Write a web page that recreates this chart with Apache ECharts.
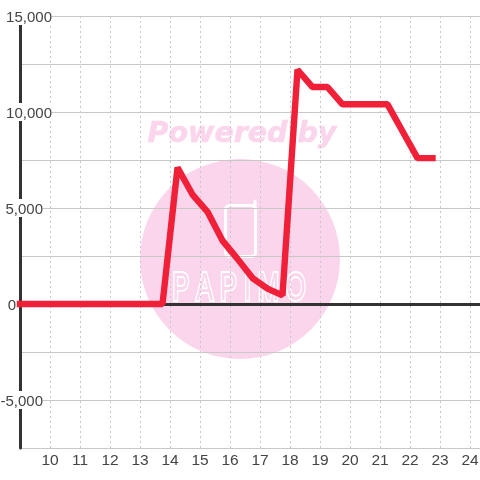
<!DOCTYPE html>
<html>
<head>
<meta charset="utf-8">
<style>
    html, body { margin: 0; padding: 0; background: #fff; }
    #chart { width: 480px; height: 480px; }
</style>
<script src="https://cdn.jsdelivr.net/npm/echarts@6/dist/echarts.min.js"></script>
</head>
<body>
<div id="chart"></div>
<script>
    var hours = [9, 9.25, 9.75, 10.25, 10.75, 11.25, 11.75, 12.25, 12.75, 13.25, 13.75,
        14.25, 14.75, 15.25, 15.75, 16.25, 16.75, 17.25, 17.75,
        18.25, 18.75, 19.25, 19.75, 20.25, 20.75, 21.25, 21.75, 22.25, 22.75];
    var values = [0, 0, 0, 0, 0, 0, 0, 0, 0, 0, 0,
        7100, 5700, 4800, 3300, 2350, 1350, 800, 450,
        12200, 11300, 11300, 10400, 10400, 10400, 10400, 9000, 7600, 7600];
    var yLabelValues = [15000, 10000, 5000, 0, -5000];
    var yLabelTexts = ['15,000', '10,000', '5,000', '0', '-5,000'];

    var points = [];
    for (var i = 0; i < hours.length; i++) {
        points.push([hours[i], values[i]]);
    }

    // 标签右侧留白不同,用空token顶开
    var labelGap = {'15,000': 'a', '10,000': 'a', '5,000': 'b', '0': 'c', '-5,000': 'b'};

    var myChart = echarts.init(document.getElementById('chart'), null, {renderer: 'canvas'});

    var option = {
        animation: false,
        backgroundColor: '#fff',
        grid: {left: 20, right: 0, top: 16, bottom: 32, outerBoundsMode: 'none'},
        xAxis: [
            {
                type: 'value',
                min: 9,
                max: 9 + 460 / 30,
                interval: 1,
                axisLine: {onZero: false, show: false},
                axisTick: {show: false},
                axisLabel: {
                    showMinLabel: false,
                    showMaxLabel: false,
                    margin: 5,
                    color: '#444',
                    fontSize: 15.5,
                    fontFamily: 'Liberation Sans'
                },
                splitLine: {lineStyle: {color: '#c8c8c8', width: 1, type: [2, 3]}}
            },
            {
                // 零线
                type: 'value',
                min: 9,
                max: 9 + 460 / 30,
                axisLine: {onZero: true, show: true, lineStyle: {color: '#333', width: 3}},
                axisTick: {show: false},
                axisLabel: {show: false},
                splitLine: {show: false}
            }
        ],
        yAxis: {
            type: 'value',
            min: -7500,
            max: 15000,
            interval: 2500,
            axisLine: {show: true, onZero: false, lineStyle: {color: '#333', width: 3}},
            axisTick: {show: false},
            axisLabel: {
                align: 'right',
                margin: -32,
                formatter: function (val) {
                    var idx = yLabelValues.indexOf(val);
                    if (idx < 0) {
                        return '';
                    }
                    var txt = yLabelTexts[idx];
                    return '{t|' + txt + '}{' + labelGap[txt] + '|}';
                },
                rich: {
                    t: {
                        color: '#444',
                        fontSize: 15,
                        fontFamily: 'Liberation Sans',
                        backgroundColor: '#fff',
                        lineHeight: 16,
                        padding: [3, 0, 0, 0]
                    },
                    a: {width: 0},
                    b: {width: 9},
                    c: {width: 36}
                }
            },
            splitLine: {lineStyle: {color: '#c8c8c8', width: 1}}
        },
        graphic: [
            {
                type: 'circle',
                z: -1,
                shape: {cx: 240, cy: 259, r: 100},
                style: {fill: '#fbd5ec'}
            },
            {
                type: 'text',
                z: -1,
                x: 242,
                y: 135,
                style: {
                    text: 'Powered by',
                    fill: '#fbd5ec',
                    stroke: '#fbd5ec',
                    lineWidth: 0.6,
                    font: 'italic bold 28.5px "DejaVu Sans"',
                    align: 'center',
                    verticalAlign: 'middle'
                }
            },
            {
                type: 'rect',
                z: -1,
                shape: {x: 225.5, y: 205.5, width: 30, height: 51, r: 4},
                style: {fill: 'none', stroke: '#fff', lineWidth: 3}
            },
            {
                type: 'line',
                z: -1,
                shape: {x1: 255, y1: 201, x2: 255, y2: 208},
                style: {stroke: '#fff', lineWidth: 3, lineCap: 'round'}
            },
            {
                type: 'text',
                z: -1,
                x: 239,
                y: 289,
                scaleX: 0.84,
                scaleY: 1.3,
                style: {
                    text: 'P A P I M O',
                    fill: '#fbd5ec',
                    stroke: '#fff',
                    lineWidth: 3,
                    font: '30px "Liberation Sans"',
                    align: 'center',
                    verticalAlign: 'middle'
                }
            }
        ],
        series: [
            {
                type: 'line',
                xAxisIndex: 0,
                data: points,
                clip: false,
                showSymbol: false,
                symbol: 'none',
                lineStyle: {color: '#ef2038', width: 6.4, cap: 'square', join: 'bevel'},
                z: 5
            }
        ]
    };

    myChart.setOption(option);
</script>
</body>
</html>
